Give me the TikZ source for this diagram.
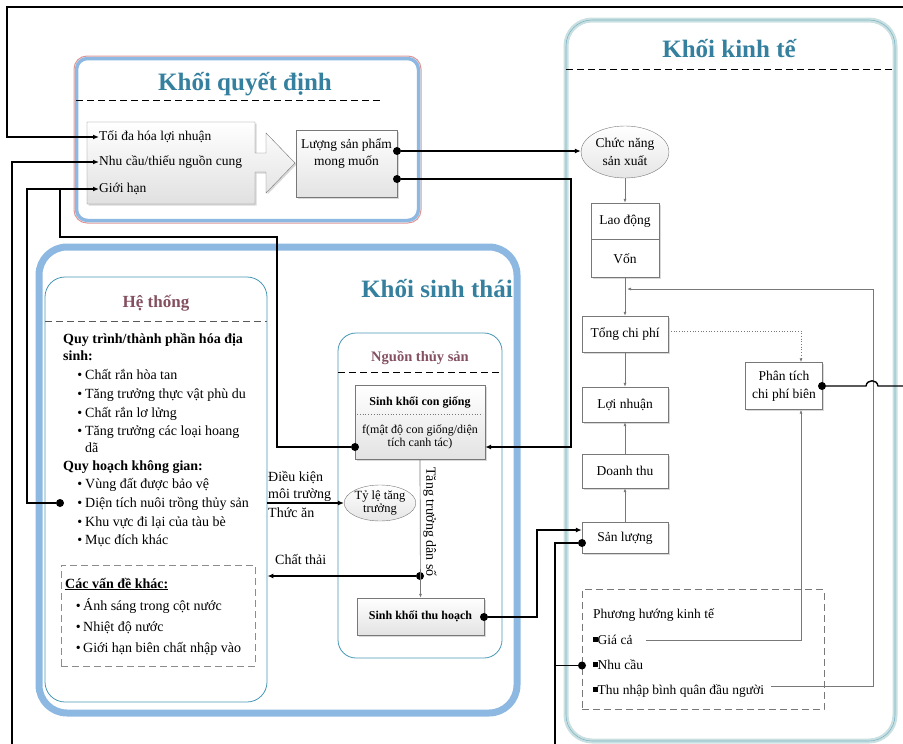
\documentclass[tikz,border=0pt]{standalone}
\usepackage{fontspec}
\setmainfont{Liberation Serif}
\usetikzlibrary{arrows.meta,shapes.geometric,shadows,positioning}
\definecolor{tieude}{RGB}{52,128,158}
\definecolor{maunau}{RGB}{132,80,96}
\definecolor{xanhnhat}{RGB}{141,184,226}
\definecolor{vienxanh}{RGB}{70,150,180}
\definecolor{vienhong}{RGB}{225,150,150}
\definecolor{xanhxam}{RGB}{202,224,224}
\definecolor{xamvien}{RGB}{120,120,120}

\begin{document}
\begin{tikzpicture}[x=1pt,y=-1pt,
    every node/.style={font=\fontsize{13.5}{16}\selectfont},
    tieudelon/.style={font=\fontsize{25}{28}\selectfont\bfseries,text=tieude,anchor=base},
    nhan/.style={anchor=west,inner sep=0pt,text height=9.5pt,text depth=2.5pt},
    dong/.style={anchor=base west,inner sep=0pt},
    bong/.style={drop shadow={opacity=0.3,shadow xshift=1.5pt,shadow yshift=-1.5pt}},
    hopxam/.style={draw=xamvien,top color=white,bottom color=black!11,bong},
    hopkt/.style={draw=xamvien,fill=white,bong,minimum width=86pt,align=center,inner sep=1pt},
    elip/.style={ellipse,draw=xamvien,top color=white,bottom color=black!10,align=center,inner sep=0pt},
    cham/.style={circle,fill=black,inner sep=0pt,minimum size=8pt},
    ketnoi/.style={line width=1.4pt,-{Latex[length=6pt,width=5pt]}},
    day/.style={line width=1.4pt},
    mong/.style={draw=xamvien,line width=0.7pt,-{Latex[length=4pt,width=3pt]}},
    gach/.style={dashed,dash pattern=on 7pt off 4pt,line width=0.8pt}]
\useasboundingbox (0,0) rectangle (903,744);

% Khoi quyet dinh
\draw[vienhong,line width=1pt,rounded corners=13pt] (74,56) rectangle (421,223);
\draw[xanhnhat,line width=3.5pt,rounded corners=11pt] (76.5,58.5) rectangle (418.5,220.5);
\node[tieudelon] (tdqd) at (245,90) {Khối quyết định};
\draw[gach] (76,100) -- (380,100);
\path[draw=xamvien,top color=white,bottom color=black!12,bong] (87,122) -- (255,122) -- (255,153) -- (266,153) -- (266,133) -- (295,163) -- (266,193) -- (266,172) -- (255,172) -- (255,204) -- (87,204) -- cycle;
\node[nhan] (toida) at (99,137) {Tối đa hóa lợi nhuận};
\node[nhan] (nhucau) at (99,162) {Nhu cầu/thiếu nguồn cung};
\node[nhan] (gioihan) at (99,189) {Giới hạn};
\node[hopxam,minimum width=101pt,minimum height=67pt,align=center,inner sep=1pt,font=\fontsize{13.5}{17}\selectfont] (luong) at (346.5,163.5) {Lượng sản phẩm\\mong muốn\\[6pt]};
\node[cham] (cq1) at (397,151) {};
\node[cham] (cq2) at (397,179) {};

% Khoi kinh te
\draw[xanhxam,line width=5pt,rounded corners=26pt] (566,20) rectangle (895,741);
\draw[vienxanh!70,line width=0.6pt,rounded corners=26pt] (566,20) rectangle (895,741);
\node[tieudelon] (tdkt) at (729,57) {Khối kinh tế};
\draw[gach] (566,69) -- (895,69);
\node[elip,minimum width=88pt,minimum height=52pt,font=\fontsize{13.5}{18}\selectfont] (chucnang) at (625,152) {Chức năng\\sản xuất};
\node[hopkt,minimum width=68pt,minimum height=36pt] (laodong) at (625,221) {Lao động};
\node[hopkt,minimum width=68pt,minimum height=38pt,anchor=north] (von) at (laodong.south) {Vốn};
\node[hopkt,minimum height=36pt] (tongcp) at (625,334) {Tổng chi phí};
\node[hopkt,minimum height=35pt] (loinhuan) at (625,404.5) {Lợi nhuận};
\node[hopkt,minimum height=34pt] (doanhthu) at (625,471) {Doanh thu};
\node[hopkt,minimum height=31pt] (sanluong) at (625,538) {Sản lượng};
\node[hopkt,minimum width=77pt,minimum height=47pt,font=\fontsize{13.5}{18}\selectfont] (phantich) at (784,386) {Phân tích\\chi phí biên};
\node[draw=xamvien,gach,line width=0.7pt,minimum width=242pt,minimum height=120pt] (phuonghuong) at (703,649.5) {};
\node[nhan] (phtieude) at (593,614.5) {Phương hướng kinh tế};
\node[nhan] (giaca) at (593,640.5) {\rule[2.5pt]{4.5pt}{4.5pt}Giá cả};
\node[nhan] (nhucaukt) at (593,665.5) {\rule[2.5pt]{4.5pt}{4.5pt}Nhu cầu};
\node[nhan] (thunhap) at (593,690.5) {\rule[2.5pt]{4.5pt}{4.5pt}Thu nhập bình quân đầu người};
\node[cham] (dnhucau) at (582,665.5) {};
\node[cham] (dsanluong) at (582,543) {};
\node[cham] (dphantich) at (822,386) {};

\draw[mong] (chucnang.south) -- (laodong.north);
\draw[mong] (von.south) -- (tongcp.north);
\draw[mong] (tongcp.south) -- (loinhuan.north);
\draw[mong] (doanhthu.north) -- (loinhuan.south);
\draw[mong] (sanluong.north) -- (doanhthu.south);
\draw[mong,dotted,line width=0.9pt] ([yshift=3pt]tongcp.east) -| ([xshift=17pt]phantich.north);
\draw[mong] ([xshift=13pt]giaca.east) -| ([xshift=17pt]phantich.south);
\draw[mong] ([xshift=7pt,yshift=4pt]thunhap.east) -| (873,289) -- (627,289);

% Khoi sinh thai
\draw[xanhnhat,line width=7pt,rounded corners=28pt] (39,247) rectangle (517,713);
\node[tieudelon] (tdst) at (437,297) {Khối sinh thái};

% He thong
\node[draw=vienxanh,line width=0.8pt,rounded corners=20pt,minimum width=222pt,minimum height=425pt,inner sep=0pt] (hethong) at (156,489.5) {};
\node[anchor=base,text=maunau,font=\fontsize{17}{20}\selectfont\bfseries] (tdht) at (156,307) {Hệ thống};
\draw[gach,draw=black!65] (45,321) -- (267,321);
\node[dong,font=\fontsize{14}{16}\selectfont\bfseries] (quytrinh) at (63,343) {Quy trình/thành phần hóa địa};
\node[dong,font=\fontsize{14}{16}\selectfont\bfseries] (sinh) at (63,360) {sinh:};
\node[dong,font=\fontsize{14}{16}\selectfont\bfseries] (quyhoach) at (63,470) {Quy hoạch không gian:};
\node[dong,font=\fontsize{14}{16}\selectfont] (da) at (85,452) {dã};
\foreach \y/\t [count=\i] in {379/Chất rắn hòa tan,398/Tăng trưởng thực vật phù du,417/Chất rắn lơ lửng,435/Tăng trưởng các loại hoang,488/Vùng đất được bảo vệ,507/Diện tích nuôi trồng thủy sản,526/Khu vực đi lại của tàu bè,544/Mục đích khác}
  \node[dong,font=\fontsize{14}{16}\selectfont] (muc\i) at (85,\y) {\llap{\textbullet\hspace{3pt}}\t};
\node[draw=black!45,gach,line width=0.9pt,minimum width=194pt,minimum height=101pt] (cacvande) at (158,615.5) {};
\node[dong,font=\fontsize{14}{16}\selectfont\bfseries] (tdcvd) at (65,588) {\underline{Các vấn đề khác:}};
\foreach \y/\t [count=\i] in {610/Ánh sáng trong cột nước,631/Nhiệt độ nước,652/Giới hạn biên chất nhập vào}
  \node[dong,font=\fontsize{14}{16}\selectfont] (vande\i) at (83,\y) {\llap{\textbullet\hspace{2.5pt}}\t};
\node[cham] (ddientich) at (60,503) {};

% Nguon thuy san
\node[draw=vienxanh,line width=0.8pt,rounded corners=18pt,minimum width=164pt,minimum height=325pt,inner sep=0pt] (nguon) at (420,495.5) {};
\node[anchor=base,text=maunau,font=\fontsize{14.5}{17}\selectfont\bfseries] (tdnguon) at (420,361) {Nguồn thủy sản};
\draw[gach,line width=1pt] (338,372) -- (502,372);
\node[hopxam,minimum width=130pt,minimum height=74pt] (sinhkhoi) at (420,422) {};
\node[font=\fontsize{12}{14}\selectfont\bfseries,anchor=base] (skten) at (420,405) {Sinh khối con giống};
\draw[dotted,draw=xamvien,line width=0.8pt] (357,414) -- (483,414);
\node[font=\fontsize{12}{13}\selectfont,align=center] (skham) at (420,437) {f(mật độ con giống/diện\\tích canh tác)};
\node[hopxam,minimum width=127pt,minimum height=37pt,font=\fontsize{12}{14}\selectfont\bfseries] (thuhoach) at (420.5,616.5) {Sinh khối thu hoạch};
\node[elip,minimum width=66pt,minimum height=36pt,font=\fontsize{12.5}{13}\selectfont] (tyle) at (380,503) {Tỷ lệ tăng\\trưởng};
\node[rotate=-90,inner sep=0pt,font=\fontsize{14}{16}\selectfont] (tangtruong) at (430,522) {Tăng trưởng dân số};
\node[dong,font=\fontsize{14}{16}\selectfont] (dieukien) at (268,481) {Điều kiện};
\node[dong,font=\fontsize{14}{16}\selectfont] (moitruong) at (268,498) {môi trường};
\node[dong,font=\fontsize{14}{16}\selectfont] (thucan) at (268,517) {Thức ăn};
\node[dong,font=\fontsize{14}{16}\selectfont] (chatthai) at (275,564) {Chất thải};
\node[cham] (dchatthai) at (420,576) {};
\node[cham] (dcongiong) at (355,447) {};
\node[cham] (dthuhoach) at (484,617) {};

\draw[mong] (sinhkhoi.south) -- (thuhoach.north);
\draw[ketnoi] (dchatthai) -- (dchatthai -| hethong.east);
\draw[ketnoi] (hethong.east |- tyle) -- (tyle.west);

% cac duong noi
\coordinate (bientren) at (903,7);
\coordinate (gocA) at (7,7);
\coordinate (dayA) at (12,744);
\coordinate (gocC) at (27,503);
\coordinate (gocD) at (277,237);
\coordinate (noiE) at (60,189);
\coordinate (gocF) at (571,179);
\coordinate (dayB) at (555,744);
\coordinate (bienphai) at (903,386);
\draw[ketnoi] (bientren) -- (gocA) |- (toida.west);
\draw[ketnoi] (dayA) |- (nhucau.west);
\draw[ketnoi] (ddientich) -- (gocC) |- (gioihan.west);
\draw[day] (dcongiong) -| (gocD) -| (noiE);
\draw[ketnoi] (cq1) -- (cq1 -| chucnang.west);
\draw[ketnoi] (cq2) -- (gocF) |- (sinhkhoi.east |- dcongiong);
\draw[ketnoi] (dthuhoach) -| (537,530) -- ([yshift=8pt]sanluong.west);
\draw[day] (dsanluong) -| (dayB);
\draw[day] (dnhucau) -- (dnhucau -| dayB);
\draw[day] (dphantich) -- (866,386) .. controls (867,379) and (877,379) .. (878,386) -- (bienphai);
\end{tikzpicture}
\end{document}
